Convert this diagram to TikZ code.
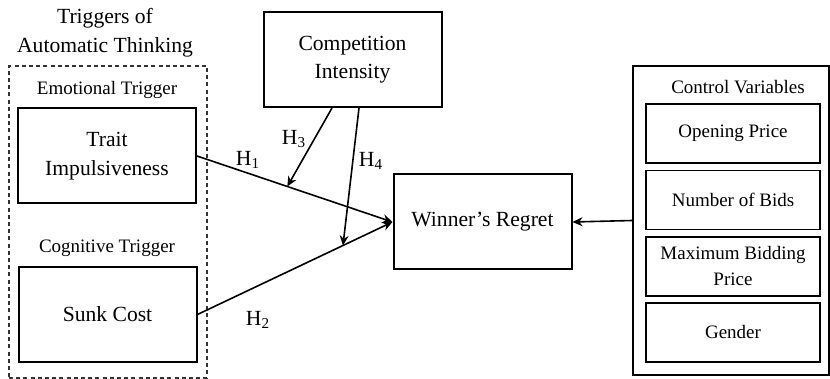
\documentclass[tikz,border=0pt]{standalone}
\usepackage{fontspec}
\setmainfont{Liberation Serif}
\usetikzlibrary{arrows.meta,calc}

\begin{document}
\begin{tikzpicture}[x=0.5pt, y=-0.5pt,
    box/.style={draw, line width=1pt, align=center, inner sep=0pt,
      minimum width=89pt, minimum height=47.5pt,
      font=\fontsize{10.8}{14.5}\selectfont},
    ctrlbox/.style={draw, line width=0.8pt, align=center, inner sep=0pt,
      minimum width=87pt, minimum height=29.5pt,
      font=\fontsize{9.5}{13}\selectfont},
    heading/.style={font=\fontsize{9.5}{13}\selectfont},
    hyp/.style={font=\fontsize{10.8}{13}\selectfont},
    arr/.style={line width=0.8pt, -{Stealth[length=5pt, width=4.5pt]}},
  ]
  \useasboundingbox (0,0) rectangle (830,379);

  %% ── Triggers of automatic thinking ───────────────────────
  \node[font=\fontsize{10.8}{14.5}\selectfont, align=center] (title)
    at (105,32.5) {Triggers of\\Automatic Thinking};
  \node[draw=black!80, line width=0.7pt, dash pattern=on 2pt off 1.6pt,
    minimum width=99pt, minimum height=156pt] (trigframe) at (108,222) {};
  \node[heading] (emolbl) at (107,90) {Emotional Trigger};
  \node[box] (trait) at (107,156) {Trait\\Impulsiveness};
  \node[heading] (coglbl) at (107,248) {Cognitive Trigger};
  \node[box] (sunk) at (107.5,314.5) {Sunk Cost};

  %% ── Moderator and outcome ────────────────────────────────
  \node[box] (comp) at (352.5,59.5) {Competition\\[-0.5pt]Intensity};
  \node[box] (regret) at (482.5,222) {Winner's Regret};

  %% ── Control variables ────────────────────────────────────
  \node[draw, line width=0.7pt, minimum width=98pt, minimum height=154.5pt]
    (ctrl) at (731,220.5) {};
  \node[heading] (ctrllbl) at (738,87) {Control Variables};
  \node[ctrlbox] (open) at (733,133.5) {Opening Price};
  \node[ctrlbox] (bids) at (733,200) {Number of Bids};
  \node[ctrlbox] (maxbid) at (733,266.5) {Maximum Bidding\\Price};
  \node[ctrlbox] (gender) at (733,332.5) {Gender};

  %% ── Paths ────────────────────────────────────────────────
  \draw[arr] (trait.east) -- (regret.west);
  \draw[arr] (sunk.east) -- (regret.west);
  \draw[arr] (ctrl.west) -- (regret.east);
  \coordinate (h3end) at ($(trait.east)!0.462!(regret.west)$);
  \coordinate (h4end) at ($(sunk.east)!0.746!(regret.west)$);
  \draw[arr] ([xshift=-10.25pt]comp.south) -- (h3end);
  \draw[arr] ([xshift=3.25pt]comp.south) -- (h4end);

  %% ── Hypothesis labels ────────────────────────────────────
  \node[hyp] (h1) at (248,160) {H\textsubscript{1}};
  \node[hyp] (h2) at (258,320) {H\textsubscript{2}};
  \node[hyp] (h3) at (294,139) {H\textsubscript{3}};
  \node[hyp] (h4) at (371,161) {H\textsubscript{4}};
\end{tikzpicture}
\end{document}
